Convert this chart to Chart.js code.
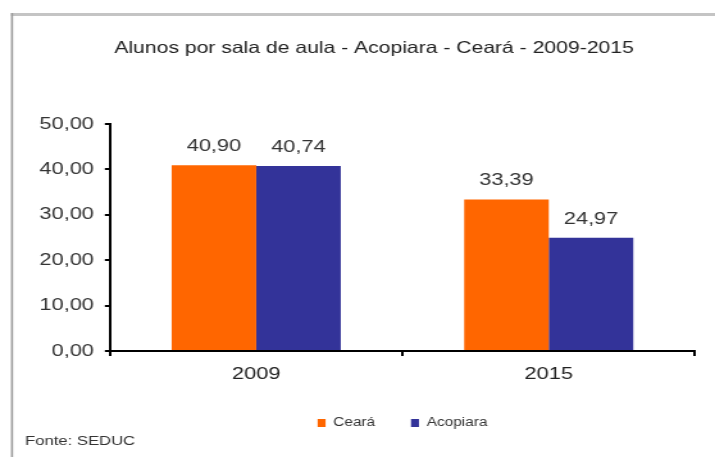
<!DOCTYPE html>
<html>
<head>
<meta charset="utf-8">
<script src="https://cdn.jsdelivr.net/npm/chart.js@4"></script>
<style>
	body { margin: 0; background: #fff; }
	#myChart { display: block; }
</style>
</head>
<body>
<!-- the original picture is stretched sideways, so the canvas is too -->
<canvas id="myChart" width="558" height="457" style="width:715px;height:457px"></canvas>
<script>
var anos = ["2009", "2015"];
var ceara = [40.90, 33.39];
var acopiara = [40.74, 24.97];
var titulo = "Alunos por sala de aula - Acopiara - Ceará - 2009-2015";
var fonte = "Fonte: SEDUC";
var yMin = 0, yMax = 50, yPasso = 10;

function virgula(v) {
	return Number(v).toFixed(2).replace(".", ",");
}

var familia = "'Liberation Sans', Arial, sans-serif";
Chart.defaults.font.family = familia;
Chart.defaults.color = "#333";

// moldura cinza, titulo e fonte
var moldura = {
	id: "moldura",
	beforeDraw: function(chart) {
		var ctx = chart.ctx;
		ctx.save();
		ctx.fillStyle = "#fff";
		ctx.fillRect(0, 0, chart.width, chart.height);
		ctx.fillStyle = "#c4c4c4";
		ctx.fillRect(8.6, 13, chart.width, 3);
		ctx.fillStyle = "#9a9a9a";
		ctx.fillRect(8.6, 13, 1.6, chart.height);
		ctx.restore();
	},
	afterDraw: function(chart) {
		var ctx = chart.ctx;
		ctx.save();
		ctx.textBaseline = "alphabetic";
		ctx.font = "16.5px " + familia;
		ctx.fillStyle = "#222";
		ctx.textAlign = "center";
		ctx.fillText(titulo, 291.9, 52.5);
		ctx.font = "13px " + familia;
		ctx.fillStyle = "#333";
		ctx.textAlign = "left";
		ctx.fillText(fonte, 19.5, 445);
		ctx.restore();
	}
};

// valores em cima das barras
var rotulos = {
	id: "rotulos",
	afterDatasetsDraw: function(chart) {
		var ctx = chart.ctx;
		ctx.save();
		ctx.font = "17px " + familia;
		ctx.fillStyle = "#333";
		ctx.textAlign = "center";
		ctx.textBaseline = "alphabetic";
		chart.data.datasets.forEach(function(ds, i) {
			chart.getDatasetMeta(i).data.forEach(function(bar, j) {
				ctx.fillText(virgula(ds.data[j]), bar.x, bar.y - 14);
			});
		});
		ctx.restore();
	}
};

var ctx = document.getElementById("myChart");

var myChart = new Chart(ctx, {
	type: "bar",
	data: {
		labels: anos,
		datasets: [
			{
				label: "Ceará",
				data: ceara,
				backgroundColor: "#ff6600",
				borderWidth: 0
			},
			{
				label: "Acopiara",
				data: acopiara,
				backgroundColor: "#333399",
				borderWidth: 0
			}
		]
	},
	options: {
		responsive: false,
		animation: false,
		categoryPercentage: 0.578,
		barPercentage: 1,
		layout: {
			padding: { left: 28, right: 15.6, top: 124, bottom: 18 }
		},
		plugins: {
			title: { display: false },
			legend: {
				position: "bottom",
				fullSize: false,
				labels: {
					boxWidth: 6.2,
					boxHeight: 8,
					padding: 28,
					color: "#333",
					font: { size: 12 }
				}
			},
			tooltip: { enabled: false }
		},
		scales: {
			x: {
				grid: {
					display: true,
					drawOnChartArea: false,
					color: "#000",
					lineWidth: 2,
					tickLength: 5
				},
				border: { display: true, color: "#000", width: 2 },
				ticks: {
					color: "#222",
					padding: 8,
					font: { size: 17 }
				},
				afterFit: function(scale) {
					scale.height = 38;
				}
			},
			y: {
				min: yMin,
				max: yMax,
				grid: {
					display: true,
					drawOnChartArea: false,
					color: "#000",
					lineWidth: 2,
					tickLength: 4
				},
				border: { display: true, color: "#000", width: 2 },
				ticks: {
					stepSize: yPasso,
					padding: 8.5,
					color: "#333",
					font: { size: 17 },
					callback: function(v) {
						return virgula(v);
					}
				},
				afterFit: function(scale) {
					scale.width = 57.8;
				}
			}
		}
	},
	plugins: [moldura, rotulos]
});
</script>
</body>
</html>
